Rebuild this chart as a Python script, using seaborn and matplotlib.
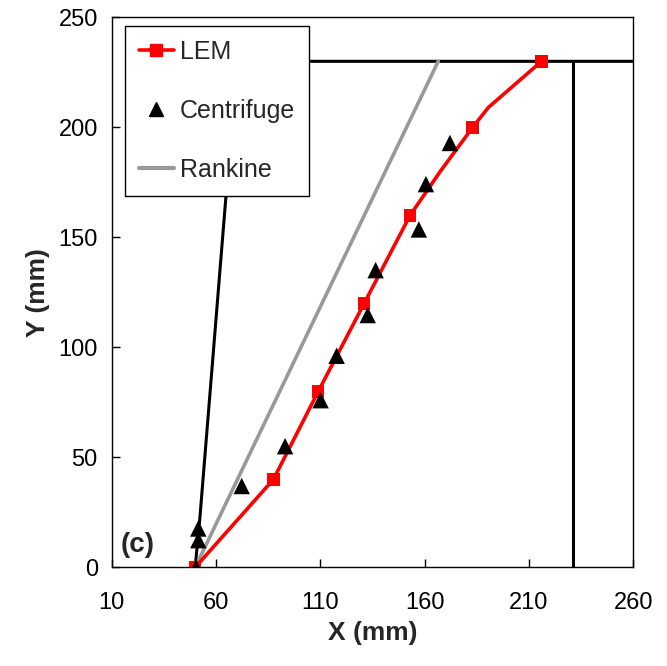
import pandas as pd
import matplotlib
matplotlib.use('Agg')
import matplotlib.pyplot as plt
import seaborn as sns
from matplotlib.lines import Line2D

# LEM results
lem_x = [50, 87.5, 109, 131, 153, 167.5, 183, 190.5, 216]
lem_y = [0, 40, 80, 120, 160, 180, 200, 209, 230]
# points that carry a marker (every 40 mm + top)
lem_mark_x = [50, 87.5, 109, 131, 153, 183, 216]
lem_mark_y = [0, 40, 80, 120, 160, 200, 230]

# Centrifuge measurements
cen_x = [50.4, 51.5, 51.5, 72.3, 93.1, 110.1, 117.8, 132.7, 136.5, 157.2, 160.6, 172.1]
cen_y = [0, 12.4, 17.7, 37.0, 55.1, 76.0, 96.2, 114.7, 135.1, 153.6, 174.2, 192.9]

# Rankine
rank_x = [50, 166.5]
rank_y = [0, 230]

# wall / container outline
wall_x = [50, 52.3, 70, 260]
wall_y = [0, 23, 230, 230]
box_x = [231, 231]
box_y = [230, 0]

xticks = [10, 60, 110, 160, 210, 260]
yticks = [0, 50, 100, 150, 200, 250]

sns.set_style('ticks')
plt.rcParams['font.family'] = ['Liberation Sans', 'DejaVu Sans']

fig = plt.figure(figsize=(6.67, 6.66), dpi=100)
ax = fig.add_axes([0.1675, 0.148, 0.782, 0.826])

lem = pd.DataFrame({'x': lem_x, 'y': lem_y})
lem_m = pd.DataFrame({'x': lem_mark_x, 'y': lem_mark_y})
cen = pd.DataFrame({'x': cen_x, 'y': cen_y})
rank = pd.DataFrame({'x': rank_x, 'y': rank_y})

ax.plot(wall_x, wall_y, color='black', lw=2.2, zorder=2)
ax.plot(box_x, box_y, color='black', lw=2.2, zorder=2)
sns.lineplot(data=rank, x='x', y='y', sort=False, color='#999999', lw=2.6, ax=ax, zorder=3)
sns.lineplot(data=lem, x='x', y='y', sort=False, color='red', lw=2.6, ax=ax, zorder=4)
sns.scatterplot(data=lem_m, x='x', y='y', marker='s', s=80, color='red', edgecolor='none', ax=ax, zorder=5)
sns.scatterplot(data=cen, x='x', y='y', marker='^', s=140, color='black', edgecolor='none', ax=ax, zorder=6)

# legend
handles = [
    Line2D([], [], color='red', lw=2.6, marker='s', ms=9, markeredgecolor='red'),
    Line2D([], [], color='black', lw=0, marker='^', ms=10),
    Line2D([], [], color='#999999', lw=3),
]
leg = ax.legend(handles, ['LEM', 'Centrifuge', 'Rankine'], loc='upper left',
                bbox_to_anchor=(0.0255, 0.984), borderaxespad=0, fontsize=18,
                frameon=True, fancybox=False, framealpha=1, edgecolor='black',
                labelspacing=1.4, handlelength=1.4, handletextpad=0.25,
                borderpad=0.55)
leg.get_frame().set_linewidth(1.0)
leg.set_zorder(10)

ax.text(14.5, 10, '(c)', fontsize=20, fontweight='bold', ha='left', va='center')

ax.set_xlim(10, 260)
ax.set_ylim(0, 250)
ax.set_xticks(xticks)
ax.set_yticks(yticks)
ax.tick_params(direction='in', length=6, width=1, labelsize=17, pad=10, colors='black')
ax.tick_params(axis='x', pad=18)
for s in ax.spines.values():
    s.set_color('black')
    s.set_linewidth(1)
ax.set_xlabel('X (mm)', fontsize=19, fontweight='bold', labelpad=5)
ax.set_ylabel('Y (mm)', fontsize=19, fontweight='bold', labelpad=6)

fig.savefig('out.png', dpi=100)
